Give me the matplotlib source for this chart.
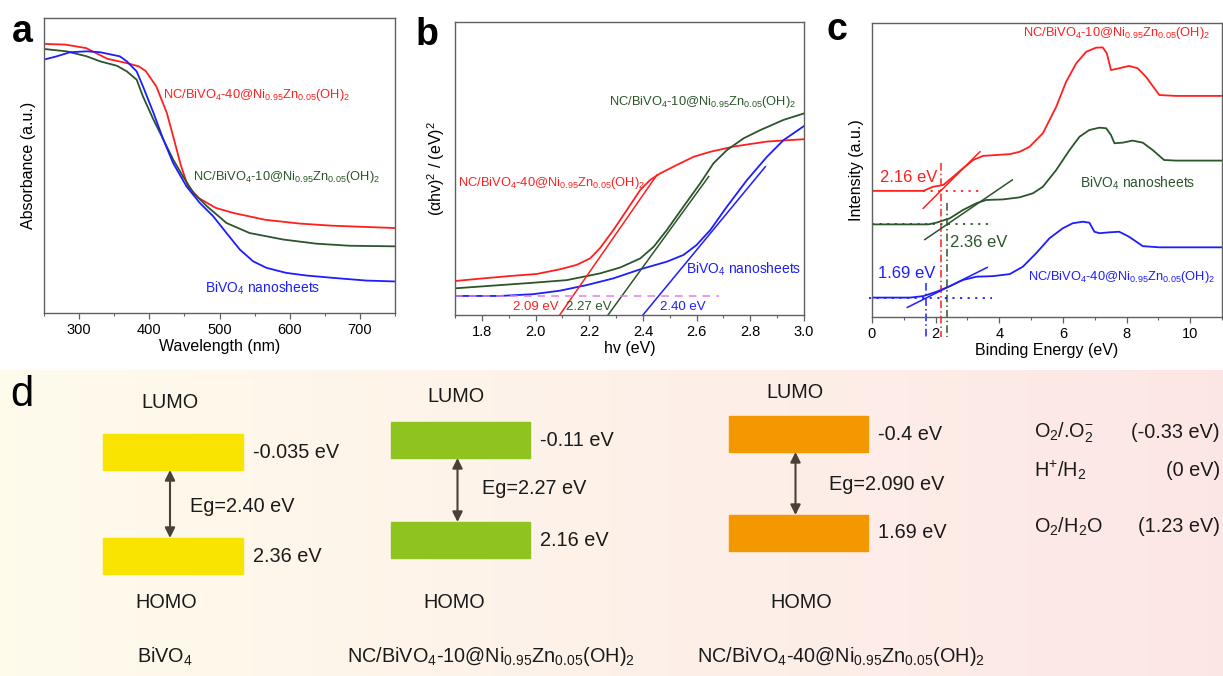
import numpy as np
import matplotlib
matplotlib.use("Agg")
import matplotlib.pyplot as plt
from matplotlib.patches import Rectangle
from matplotlib.ticker import MultipleLocator, FormatStrFormatter

plt.rcParams['font.family'] = ['Liberation Sans', 'DejaVu Sans']
plt.rcParams['mathtext.fontset'] = 'custom'
plt.rcParams['mathtext.rm'] = 'Liberation Sans'
plt.rcParams['mathtext.it'] = 'Liberation Sans:italic'
plt.rcParams['mathtext.bf'] = 'Liberation Sans:bold'

RED = '#ff1f1f'
GREEN = '#2b552b'
BLUE = '#1d1dff'

S10 = r"NC/BiVO$_4$-10@Ni$_{0.95}$Zn$_{0.05}$(OH)$_2$"
S40 = r"NC/BiVO$_4$-40@Ni$_{0.95}$Zn$_{0.05}$(OH)$_2$"
SBV = r"BiVO$_4$ nanosheets"

# ---- (a) UV-vis absorbance ----
a_red_wl = [250, 280, 310, 340, 370, 385, 395, 410, 425, 435, 445, 455, 470, 495, 520, 565, 615, 660, 750]
a_red_ab = [0.912, 0.910, 0.898, 0.862, 0.846, 0.836, 0.820, 0.768, 0.678, 0.590, 0.500, 0.430, 0.390, 0.356, 0.339, 0.316, 0.303, 0.296, 0.288]
a_grn_wl = [250, 282, 311, 330, 354, 368, 382, 391, 406, 420, 434, 448, 463, 482, 510, 543, 591, 638, 685, 749]
a_grn_ab = [0.895, 0.887, 0.870, 0.853, 0.838, 0.819, 0.791, 0.734, 0.655, 0.588, 0.520, 0.463, 0.407, 0.362, 0.305, 0.271, 0.249, 0.235, 0.228, 0.226]
a_blu_wl = [250, 268, 287, 311, 330, 358, 368, 382, 391, 406, 420, 434, 453, 472, 491, 510, 529, 548, 567, 595, 624, 662, 709, 749]
a_blu_ab = [0.859, 0.870, 0.884, 0.887, 0.884, 0.870, 0.853, 0.819, 0.768, 0.678, 0.588, 0.508, 0.429, 0.373, 0.328, 0.271, 0.215, 0.175, 0.153, 0.136, 0.127, 0.119, 0.110, 0.107]

# ---- (b) Tauc plot ----
b_red_hv = [1.70, 1.805, 1.904, 2.004, 2.091, 2.153, 2.203, 2.240, 2.290, 2.340, 2.390, 2.427, 2.464, 2.526, 2.589, 2.651, 2.738, 2.862, 3.00]
b_red_y = [0.116, 0.125, 0.133, 0.140, 0.156, 0.171, 0.193, 0.228, 0.290, 0.358, 0.427, 0.461, 0.483, 0.512, 0.540, 0.557, 0.575, 0.592, 0.600]
b_grn_hv = [1.70, 1.867, 1.990, 2.116, 2.240, 2.315, 2.390, 2.440, 2.489, 2.551, 2.613, 2.663, 2.713, 2.775, 2.837, 2.924, 3.00]
b_grn_y = [0.091, 0.102, 0.110, 0.119, 0.142, 0.162, 0.193, 0.233, 0.290, 0.370, 0.449, 0.518, 0.563, 0.603, 0.631, 0.666, 0.688]
b_blu_hv = [1.70, 1.867, 1.990, 2.091, 2.190, 2.290, 2.390, 2.489, 2.551, 2.600, 2.651, 2.713, 2.788, 2.862, 2.924, 3.00]
b_blu_y = [0.065, 0.065, 0.071, 0.083, 0.102, 0.125, 0.156, 0.182, 0.205, 0.239, 0.290, 0.370, 0.461, 0.540, 0.597, 0.645]
b_gaps = [2.09, 2.27, 2.40]
b_slopes = [1.32, 1.26, 1.11]
b_tan_end = [2.452, 2.645, 2.856]
b_baseline = 0.065

# ---- (c) VB-XPS ----
c_red_x = [0, 1.61, 1.92, 2.24, 2.55, 2.86, 3.18, 3.49, 3.91, 4.33, 4.64, 4.95, 5.37, 5.79, 6.10, 6.42, 6.73, 7.04, 7.25, 7.38, 7.51, 7.77, 8.08, 8.35, 8.61, 9.03, 9.55, 11.0]
c_red_y = [0.429, 0.429, 0.443, 0.449, 0.477, 0.506, 0.534, 0.548, 0.551, 0.554, 0.562, 0.579, 0.625, 0.715, 0.800, 0.863, 0.902, 0.916, 0.917, 0.897, 0.840, 0.846, 0.854, 0.846, 0.817, 0.755, 0.752, 0.752]
c_grn_x = [0, 1.77, 2.03, 2.45, 2.86, 3.28, 3.59, 4.12, 4.64, 5.06, 5.37, 5.79, 6.21, 6.52, 6.83, 7.15, 7.36, 7.51, 7.62, 7.88, 8.19, 8.51, 8.82, 9.18, 9.55, 11.0]
c_grn_y = [0.315, 0.315, 0.321, 0.336, 0.364, 0.387, 0.398, 0.400, 0.407, 0.421, 0.443, 0.500, 0.568, 0.613, 0.636, 0.644, 0.642, 0.619, 0.591, 0.593, 0.600, 0.593, 0.568, 0.534, 0.532, 0.532]
c_blu_x = [0, 1.19, 1.61, 2.03, 2.45, 2.86, 3.28, 3.80, 4.33, 4.74, 5.16, 5.58, 6.00, 6.31, 6.62, 6.83, 6.99, 7.15, 7.46, 7.77, 8.08, 8.51, 9.03, 11.0]
c_blu_y = [0.066, 0.066, 0.071, 0.086, 0.105, 0.126, 0.137, 0.139, 0.146, 0.171, 0.217, 0.268, 0.302, 0.319, 0.324, 0.321, 0.290, 0.285, 0.288, 0.290, 0.273, 0.241, 0.237, 0.237]
c_vbm = [2.16, 2.36, 1.69]
c_base = [0.429, 0.315, 0.064]
c_slopes = [0.108, 0.0738, 0.0542]
c_tan_x = [(1.61, 3.39), (1.66, 4.41), (1.11, 3.62)]
c_dot_x = [(1.61, 3.39), (0.0, 3.75), (-0.11, 3.78)]
c_vtop = [0.523, 0.387, 0.115]

# ---- (d) band structure ----
d_names = [r"BiVO$_4$", S10, S40]
d_lumo = [-0.035, -0.11, -0.4]
d_homo = [2.36, 2.16, 1.69]
d_gap = ["2.40", "2.27", "2.090"]
d_colors = ['#f8e400', '#8fc31f', '#f39800']
redox_labels = [r"O$_2$/.O$_2^{-}$", r"H$^{+}$/H$_2$", r"O$_2$/H$_2$O"]
redox_pot = [-0.33, 0, 1.23]

W, H = 1223, 676
fig = plt.figure(figsize=(W / 100, H / 100), dpi=100)


def px_axes(l, r, t, b):
    return fig.add_axes([l / W, 1 - b / H, (r - l) / W, (b - t) / H])


def style(ax):
    for s in ax.spines.values():
        s.set_color('#606060')
        s.set_linewidth(1.0)
    ax.tick_params(axis='x', which='major', direction='out', length=4, width=0.9,
                   color='#606060', labelsize=10.5, pad=3, top=False)
    ax.tick_params(axis='x', which='minor', direction='out', length=2.5, width=0.8,
                   color='#606060', top=False)
    ax.tick_params(axis='y', which='both', left=False, right=False, labelleft=False)
    ax.set_ylim(0, 1)


LFS = 9.3  # formula labels inside the plots

# panel a
axa = px_axes(44, 395, 18, 313)
style(axa)
axa.plot(a_red_wl, a_red_ab, color=RED, lw=1.3)
axa.plot(a_grn_wl, a_grn_ab, color=GREEN, lw=1.3)
axa.plot(a_blu_wl, a_blu_ab, color=BLUE, lw=1.3)
axa.set_xlim(250, 750)
axa.xaxis.set_major_locator(MultipleLocator(100))
axa.xaxis.set_minor_locator(MultipleLocator(50))
axa.set_xlabel("Wavelength (nm)", fontsize=11.5, labelpad=2)
axa.set_ylabel("Absorbance (a.u.)", fontsize=11.5, labelpad=6)
axa.text(419, 0.74, S40, color=RED, fontsize=LFS, va='center')
axa.text(462, 0.46, S10, color=GREEN, fontsize=LFS, va='center')
axa.text(479, 0.085, SBV, color=BLUE, fontsize=10, va='center')
fig.text(12 / W, 1 - 42 / H, "a", fontsize=27, fontweight='bold')

# panel b
axb = px_axes(455, 804, 22, 315)
style(axb)
axb.plot(b_red_hv, b_red_y, color=RED, lw=1.3)
axb.plot(b_grn_hv, b_grn_y, color=GREEN, lw=1.3)
axb.plot(b_blu_hv, b_blu_y, color=BLUE, lw=1.3)
for g, s, e, c in zip(b_gaps, b_slopes, b_tan_end, [RED, GREEN, BLUE]):
    xs = np.array([g, e])
    axb.plot(xs, s * (xs - g), color=c, lw=1.1)
axb.plot([1.7, 2.682], [b_baseline, b_baseline], color='#e07ee8', lw=1.1, ls=(0, (5, 4)))
axb.set_xlim(1.7, 3.0)
axb.xaxis.set_major_locator(MultipleLocator(0.2))
axb.xaxis.set_minor_locator(MultipleLocator(0.1))
axb.xaxis.set_major_formatter(FormatStrFormatter('%.1f'))
axb.set_xlabel("hv (eV)", fontsize=11.5, labelpad=2)
axb.set_ylabel(r"(αhv)$^2$ / (eV)$^2$", fontsize=11.5, labelpad=6)
axb.text(1.915, 0.026, f"{b_gaps[0]:.2f} eV", color=RED, fontsize=9.5, va='center')
axb.text(2.112, 0.026, f"{b_gaps[1]:.2f} eV", color=GREEN, fontsize=9.5, va='center')
axb.text(2.462, 0.026, f"{b_gaps[2]:.2f} eV", color=BLUE, fontsize=9.5, va='center')
axb.text(1.712, 0.45, S40, color=RED, fontsize=LFS, va='center')
axb.text(2.274, 0.727, S10, color=GREEN, fontsize=LFS, va='center')
axb.text(2.561, 0.157, SBV, color=BLUE, fontsize=10, va='center')
fig.text(416 / W, 1 - 45 / H, "b", fontsize=27, fontweight='bold')

# panel c
axc = px_axes(872, 1222, 23, 317)
style(axc)
axc.plot(c_red_x, c_red_y, color=RED, lw=1.3)
axc.plot(c_grn_x, c_grn_y, color=GREEN, lw=1.3)
axc.plot(c_blu_x, c_blu_y, color=BLUE, lw=1.3)
for v, b0, s, (t0, t1), (d0, d1), vt, c in zip(c_vbm, c_base, c_slopes, c_tan_x,
                                             c_dot_x, c_vtop, [RED, GREEN, BLUE]):
    xs = np.array([t0, t1])
    axc.plot(xs, b0 + s * (xs - v), color=c, lw=1.1)
    axc.plot([d0, d1], [b0, b0], color=c, lw=1.3, ls=(0, (1.2, 3)), clip_on=False)
    axc.plot([v, v], [vt, -0.068], color=c, lw=1.1, ls=(0, (5, 2, 1, 2)), clip_on=False)
axc.set_xlim(0, 11)
axc.xaxis.set_major_locator(MultipleLocator(2))
axc.xaxis.set_minor_locator(MultipleLocator(1))
axc.set_xlabel("Binding Energy (eV)", fontsize=11.5, labelpad=2)
axc.set_ylabel("Intensity (a.u.)", fontsize=11.5, labelpad=6)
axc.text(0.25, 0.475, f"{c_vbm[0]:.2f} eV", color=RED, fontsize=12, va='center')
axc.text(2.44, 0.255, f"{c_vbm[1]:.2f} eV", color=GREEN, fontsize=12, va='center')
axc.text(0.19, 0.148, f"{c_vbm[2]:.2f} eV", color=BLUE, fontsize=12, va='center')
axc.text(4.74, 0.966, S10, color=RED, fontsize=LFS, va='center')
axc.text(6.55, 0.456, SBV, color=GREEN, fontsize=10, va='center')
axc.text(4.9, 0.136, S40, color=BLUE, fontsize=LFS, va='center')
fig.text(826 / W, 1 - 40 / H, "c", fontsize=27, fontweight='bold')

# panel d: schematic drawn on a pixel canvas
axd = px_axes(0, W, 370, H)
axd.set_xlim(0, W)
axd.set_ylim(H, 370)
axd.axis('off')
c0 = np.array([1.0, 0.985, 0.925])
c1 = np.array([0.99, 0.905, 0.90])
t = np.linspace(0, 1, 256)[None, :, None]
grad = c0 * (1 - t) + c1 * t
axd.imshow(grad, extent=(0, W, H, 370), aspect='auto', zorder=0)
axd.text(10, 395, "d", fontsize=30, va='center', ha='left')

bar_x0 = [103, 391, 729]
bar_w = [140, 139, 139]
lumo_top = [434, 422, 416]
homo_top = [538, 522, 515]
bar_h = 36
lumo_lbl = [(170, 403), (456, 397), (795, 392)]
homo_lbl_x = [166, 454, 801]
name_x = [165, 491, 841]
eg_lbl = [(190, 507), (482, 488), (829, 485)]
FS = 14.3
DARK = '#1a1a1a'
for i in range(3):
    x0, w = bar_x0[i], bar_w[i]
    axd.add_patch(Rectangle((x0, lumo_top[i]), w, bar_h, color=d_colors[i], zorder=2))
    axd.add_patch(Rectangle((x0, homo_top[i]), w, bar_h, color=d_colors[i], zorder=2))
    xc = x0 + w / 2 - 3
    axd.annotate('', xy=(xc, lumo_top[i] + bar_h), xytext=(xc, homo_top[i]),
                 arrowprops=dict(arrowstyle='<|-|>', color='#4b4036', lw=1.5,
                                 mutation_scale=15, shrinkA=0, shrinkB=0), zorder=3)
    axd.text(x0 + w + 10, lumo_top[i] + bar_h / 2, f"{d_lumo[i]} eV", fontsize=FS,
             va='center', color=DARK)
    axd.text(x0 + w + 10, homo_top[i] + bar_h / 2, f"{d_homo[i]} eV", fontsize=FS,
             va='center', color=DARK)
    axd.text(eg_lbl[i][0], eg_lbl[i][1], f"Eg={d_gap[i]} eV", fontsize=FS,
             va='center', color=DARK)
    axd.text(lumo_lbl[i][0], lumo_lbl[i][1], "LUMO", fontsize=FS, ha='center',
             va='center', color=DARK)
    axd.text(homo_lbl_x[i], 602, "HOMO", fontsize=FS, ha='center', va='center', color=DARK)
    axd.text(name_x[i], 657, d_names[i], fontsize=FS, ha='center', va='center', color=DARK)

for lbl, p, y in zip(redox_labels, redox_pot, [433, 470, 527]):
    axd.text(1034, y, lbl, fontsize=FS, va='center', color=DARK)
    axd.text(1220, y, f"({p:g} eV)", fontsize=FS, va='center', ha='right', color=DARK)

fig.savefig("out.png", dpi=100)
